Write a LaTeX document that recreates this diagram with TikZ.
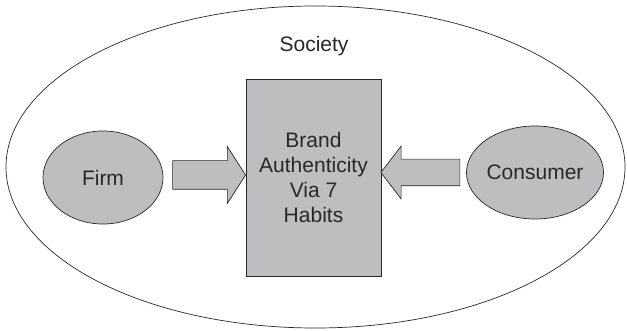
\documentclass[tikz,border=0pt]{standalone}
\usepackage{fontspec}
\setmainfont{Liberation Sans}
\usetikzlibrary{shapes.geometric,shapes.arrows}
\definecolor{panel}{RGB}{190,190,192}
\definecolor{edge}{RGB}{40,40,40}

\begin{document}
\begin{tikzpicture}[x=1pt, y=-1pt,
        every node/.style={font=\fontsize{21}{25}\selectfont, text=edge},
        actor/.style={ellipse, draw=edge, fill=panel, line width=0.7pt, inner sep=0,
                      minimum width=120pt, minimum height=93pt},
        brandbox/.style={rectangle, draw=edge, fill=panel, line width=0.7pt,
                      minimum width=135pt, minimum height=197pt, align=center},
        fatarrow/.style={single arrow, draw=edge, fill=panel, line width=0.7pt,
                      inner xsep=0, text height=0pt, text depth=0pt}]
    \useasboundingbox (0, 0) rectangle (627, 331);
    % outer ring
    \draw[edge, line width=0.7pt] (315.5, 167) ellipse [x radius=309.5, y radius=161];
        \node (society) at (314, 46){Society};

    % middle
    \node[brandbox] (brand) at (313.5, 177.5){Brand\\Authenticity\\Via 7\\Habits};

    % two sides
    \node[actor] (firm) at (103, 177.5){Firm};
    \node[actor] (consumer) at (535, 172.5){Consumer};

    % block arrows into the middle
    \node[fatarrow, minimum height=73pt, inner ysep=14pt,
          single arrow head extend=14pt, single arrow tip angle=114.5] (firmarrow) at (204.5, 175){};
    \node[fatarrow, shape border rotate=180, minimum height=79pt, inner ysep=13pt,
          single arrow head extend=13pt, single arrow tip angle=105] (consumerarrow) at (425.5, 172.5){};
\end{tikzpicture}
\end{document}
